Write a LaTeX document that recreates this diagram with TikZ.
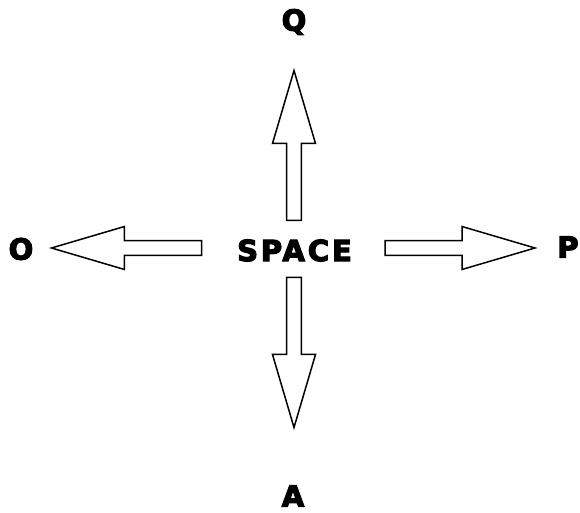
\documentclass[tikz,border=0pt]{standalone}
\usepackage{fontspec}
\setmainfont{DejaVu Sans}
\usepackage{tikz}
\usetikzlibrary{positioning}

% heavier letters: fill and stroke the glyphs
\newcommand\heavytext[1]{\special{pdf:literal direct 2 Tr 1.2 w}#1\special{pdf:literal direct 0 Tr 0.4 w}}

\tikzset{
  keylabel/.style={font=\bfseries\fontsize{29}{29}\selectfont,inner sep=0pt},
  blockarrow/.style={draw=black,fill=white,line width=1.5pt,line join=miter}
}

\begin{document}
\begin{tikzpicture}[x=1pt,y=1pt]
\path[use as bounding box] (-294,-265) rectangle (286,248);
% centre label and the four keys
\node[keylabel] (space) at (0.5,-2.5) {\addfontfeature{LetterSpace=10}\heavytext{SPACE}};
\node[keylabel] (q) at (0,226) {\heavytext{Q}};
\node[keylabel] (a) at (-1,-248) {\heavytext{A}};
\node[keylabel] (o) at (-273,-1) {\heavytext{O}};
\node[keylabel] (p) at (274,1) {\heavytext{P}};
% block arrows: angle / gap from centre
\foreach \ang/\gap in {0/91,90/27.5,180/92.5,270/29.5}{
  \begin{scope}[rotate=\ang]
  \draw[blockarrow] (\gap,-7.3) -- (\gap+77,-7.3) -- (\gap+77,-21.5) -- (\gap+150,0)
    -- (\gap+77,21.5) -- (\gap+77,7.3) -- (\gap,7.3) -- cycle;
  \end{scope}
}
\end{tikzpicture}
\end{document}
